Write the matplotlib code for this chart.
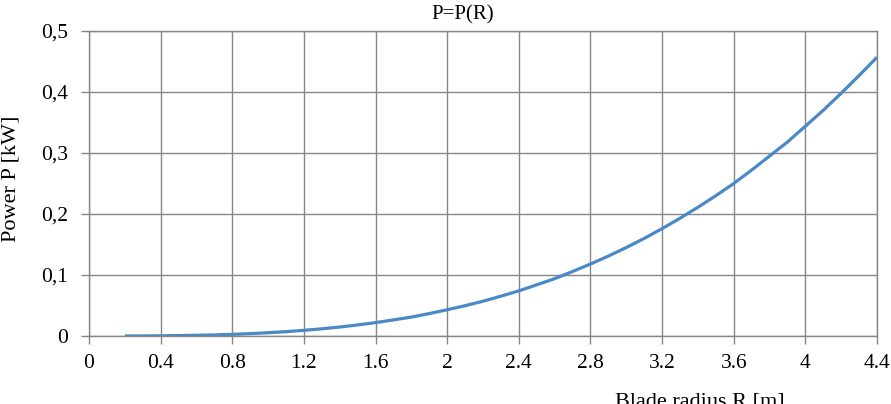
import matplotlib
matplotlib.use("Agg")
import matplotlib.pyplot as plt
import numpy as np

# values
radius = [0.2, 0.3, 0.4, 0.5, 0.6, 0.7, 0.8, 0.9, 1.0, 1.1, 1.2, 1.3, 1.4,
          1.5, 1.6, 1.7, 1.8, 1.9, 2.0, 2.1, 2.2, 2.3, 2.4, 2.5, 2.6, 2.7,
          2.8, 2.9, 3.0, 3.1, 3.2, 3.3, 3.4, 3.5, 3.6, 3.7, 3.8, 3.9, 4.0,
          4.1, 4.2, 4.3, 4.4]
power = [0.00004, 0.00015, 0.0003, 0.0007, 0.0012, 0.0018, 0.0027, 0.0039,
         0.0054, 0.0071, 0.0093, 0.0118, 0.0147, 0.0181, 0.022, 0.0264,
         0.031, 0.0368, 0.043, 0.0497, 0.057, 0.0653, 0.074, 0.0839, 0.094,
         0.1057, 0.118, 0.131, 0.145, 0.160, 0.176, 0.193, 0.211, 0.230,
         0.250, 0.272, 0.295, 0.318, 0.344, 0.370, 0.398, 0.427, 0.457]

x_ticks = [0, 0.4, 0.8, 1.2, 1.6, 2, 2.4, 2.8, 3.2, 3.6, 4, 4.4]
x_tick_labels = ["0", "0.4", "0.8", "1.2", "1.6", "2", "2.4", "2.8",
                 "3.2", "3.6", "4", "4.4"]
y_ticks = [0, 0.1, 0.2, 0.3, 0.4, 0.5]
y_tick_labels = ["0", "0,1", "0,2", "0,3", "0,4", "0,5"]

plt.rcParams['font.family'] = ['Liberation Serif', 'DejaVu Serif']
grid_col = '#868686'

fig = plt.figure(figsize=(8.91, 4.04), dpi=100)
ax = fig.add_axes([89 / 891, 1 - 336 / 404, (877 - 89) / 891, (336 - 31) / 404])

ax.plot(radius, power, color='#4a89c6', linewidth=2.3, solid_capstyle='butt')

ax.set_xlim(0, 4.4)
ax.set_ylim(0, 0.5)
ax.set_xticks(x_ticks)
ax.set_xticklabels(x_tick_labels)
ax.set_yticks(y_ticks)
ax.set_yticklabels(y_tick_labels)
ax.grid(True, color=grid_col, linewidth=1.0)
ax.set_axisbelow(True)
for s in ax.spines.values():
    s.set_color(grid_col)
    s.set_linewidth(1.0)
ax.tick_params(direction='out', length=6, color=grid_col, width=1.0,
               labelsize=15.5)
ax.tick_params(axis='y', pad=9)
ax.tick_params(axis='x', pad=7)

# titles and axis labels placed by pixel position like the reference
fig.text(463 / 891, 1 - 5 / 404, "P=P(R)", ha='center', va='top', fontsize=15)
fig.text(11 / 891, 1 - 179 / 404, "Power P [kW]", rotation=90,
         ha='center', va='center', fontsize=16)
fig.text(700 / 891, 1 - 393 / 404, "Blade radius R [m]", ha='center',
         va='top', fontsize=16)

fig.savefig("out.png", dpi=100)
